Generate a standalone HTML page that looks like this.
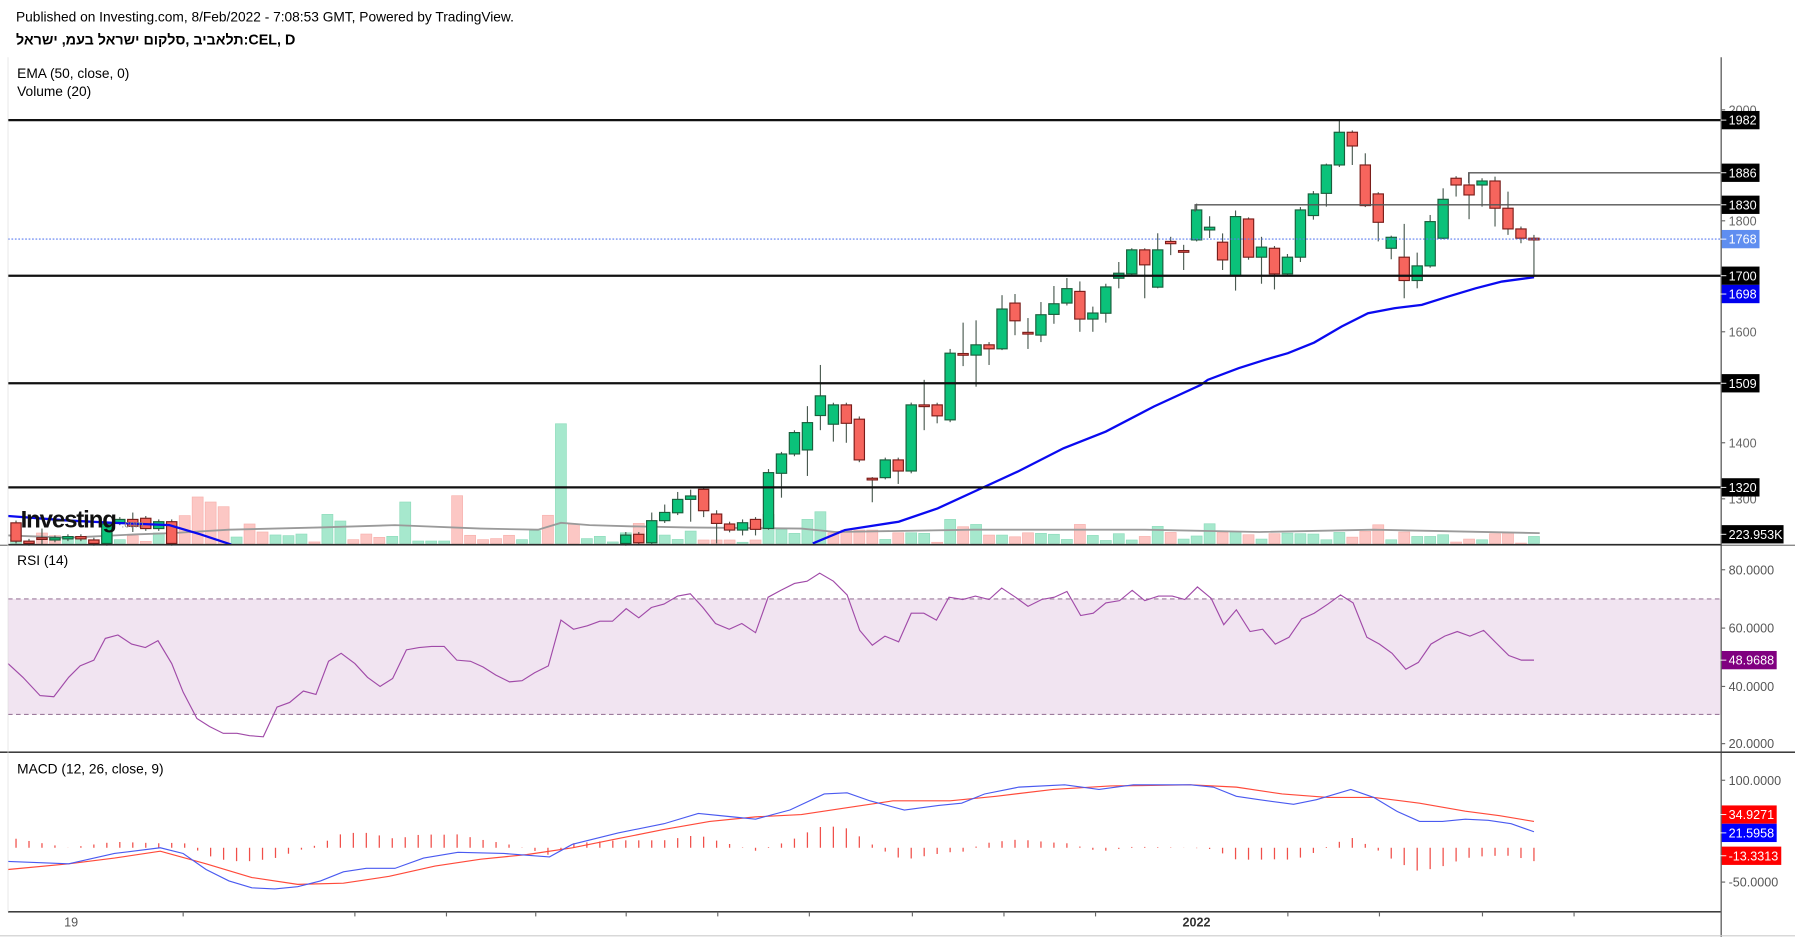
<!DOCTYPE html>
<html><head><meta charset="utf-8">
<style>
html,body{margin:0;padding:0;background:#fff;}
svg{display:block;}
text{font-family:"Liberation Sans","Noto Sans CJK SC",sans-serif;}
</style></head>
<body>
<svg id="c" xmlns="http://www.w3.org/2000/svg" width="1795" height="937" viewBox="0 0 1568 819" preserveAspectRatio="none">
<rect x="0" y="0" width="1568" height="819" fill="#fff"/>
<text x="14" y="19" font-size="12" fill="#000">Published on Investing.com, 8/Feb/2022 - 7:08:53 GMT, Powered by TradingView.</text>
<text x="14" y="39" font-size="12.5" font-weight="bold" fill="#000" direction="ltr">תלאביב ,סלקום ישראל בעמ, ישראל:CEL, D</text>
<text x="15" y="68" font-size="12" fill="#000">EMA (50, close, 0)</text>
<text x="15" y="84" font-size="12" fill="#000">Volume (20)</text>
<text x="15" y="494" font-size="12" fill="#000">RSI (14)</text>
<text x="15" y="676" font-size="12" fill="#000">MACD (12, 26, close, 9)</text>
<g id="g"></g>
</svg>
<script>
(function(){
var g=document.getElementById('g');var s='';
function X(i){return 14+i*11.333;}
s+='<rect x="7" y="523.5" width="1496" height="101" fill="#f1e4f1"/>';
s+='<line x1="7" y1="523.5" x2="1503" y2="523.5" stroke="#9c7a9c" stroke-dasharray="4,3"/>';
s+='<line x1="7" y1="624.5" x2="1503" y2="624.5" stroke="#9c7a9c" stroke-dasharray="4,3"/>';
var vt={0:['g',471.7],1:['r',472.9],2:['r',465.9],3:['r',468.2],4:['g',471.7],5:['g',469.4],6:['r',471.7],7:['g',465.9],8:['g',471.7],9:['r',468.2],10:['r',473.2],11:['g',465.9],12:['r',468],
13:['r',450.7],14:['r',434.4],15:['r',438.8],16:['r',442.9],17:['g',469.4],18:['r',458],19:['r',465],20:['g',467.6],21:['g',468.2],22:['g',466.8],23:['r',473.7],24:['g',449.6],25:['g',455.4],26:['r',471.7],27:['r',466.8],28:['r',469.7],29:['g',468.8],30:['g',438.8],31:['g',472.9],32:['g',472.9],33:['g',472.9],34:['r',433.3],35:['r',467.9],36:['r',471.7],37:['r',470.8],38:['r',467.9],39:['g',471.7],40:['g',463.8],41:['r',450.4],42:['g',370.4],43:['r',458],44:['g',470.8],45:['g',468.8],46:['g',473.7],
47:['g',465.7],48:['r',457.5],49:['g',465.7],50:['g',467.7],51:['g',471.5],52:['g',464.2],53:['r',472],54:['r',472],55:['r',472],56:['g',474],57:['r',472],58:['g',449.6],59:['g',462.7],60:['g',466.2],61:['g',454],62:['g',447.3],63:['r',465.7],64:['r',463.3],65:['r',463.3],66:['r',463.3],67:['g',471.5],68:['r',465.7],69:['g',465.7],70:['g',466.2],71:['r',474],72:['g',454],73:['r',460.4],74:['g',458.4],75:['r',467.7],76:['g',467.7],77:['r',469.2],78:['r',465.7],79:['g',466.2],80:['g',467],81:['g',471.5],82:['r',458.4],83:['g',468],
84:['g',472.4],85:['g',466.5],86:['g',472],87:['r',468.9],88:['g',460.1],89:['r',465.4],90:['g',471.2],91:['g',468.5],92:['g',457.8],93:['r',465.4],94:['g',464.5],95:['r',467.4],96:['g',471.2],97:['r',466.5],98:['g',466],99:['g',466.5],100:['g',466.8],101:['g',471.8],102:['g',465.4],103:['r',469.5],104:['r',464.5],105:['r',458.7],106:['g',471.8],107:['r',465],108:['g',468.9],109:['g',468.9],110:['g',467.4],111:['r',473.8],112:['r',471.2],113:['g',471.8],114:['r',466.5],115:['r',466],116:['r',474.7],117:['g',468.9]};
for(var i=0;i<=117;i++){var v=vt[i];if(!v)continue;var x=X(i)-4.8;
s+='<rect x="'+x+'" y="'+v[1]+'" width="9.6" height="'+(475-v[1])+'" fill="'+(v[0]=='g'?'#a6e8cd':'#fcc7c4')+'" stroke="'+(v[0]=='g'?'#8fdcbc':'#f7b1ad')+'" stroke-width="0.6"/>';}
s+='<polyline fill="none" stroke="#9a9a9a" stroke-width="1.6" points="7,468 60,470 120,467 150,466 200,463 280,461 345,459 420,462 470,463 490,457 515,459 550,460 600,461 700,462 730,465 850,463 1000,463 1100,465 1200,463 1345,466"/>';
var C=[[0,457,473],[1,473,475],[2,470,470.6,462,476],[3,472,470],[4,471,469],[5,469,471],[6,472,475],[7,475,458],[8,457,454],[9,454,460,448,465],[10,453,462],[11,462,456],[12,456,475],
[47,475,467.7,465,477],[48,467,474.4],[49,474.4,455.1,448],[50,455.1,447.9,441],[51,448.2,436.5,430],[52,436.5,433.5,428,456],[53,427.7,446.4,426,452],[54,449.3,457.5,446,475],[55,458,463.3],[56,463.3,456.9,454,468],[57,454,462.7,452,468],[58,461.9,413.1,410,463],[59,413.7,396.8,395,435],[60,396.8,378.1],[61,393.3,369.4,355,416],[62,363.2,346,319,376],[63,370.8,353.9,352,386],[64,353.9,370,352,387],[65,366.4,402,364,404],[66,418,419.5,417,439],[67,417.5,402,400,419],[68,402,411.7,400,423],[69,411.7,353.9],[70,353.9,354.8,332,376],[71,353.9,363.5,352,370],[72,367,308.7,305,369],[73,309,310.5,282,320],[74,310.4,301.4,280,338],[75,301.4,304.9,299,319],[76,304.9,270.1,258,306],[77,264.9,280.4,257,293],[78,290.5,292,278,305],[79,292.9,275.1,264,299],[80,274.8,265.5,250,283],[81,264.9,252.3,243,267],[82,254.7,278.9,246,290],[83,278.9,273.6,268,290],[84,273.8,250.8,248,282],[85,243.2,238.8,229,252],[86,239.4,218.4,217,241],[87,218.4,231.5,217,260.7],[88,251,218.4,203.9,252],[89,211,213,207,223],[90,219,220,214,236],[91,209.7,183.5,178,211],[92,201,198.6,189,208],[93,211.7,227.2,204,236],[94,241.2,189.3,184,254],[95,191.4,224.8,190,227],[96,224.8,216,207,248],[97,217,239.4,215,253],[98,239.4,224.8,222,241],[99,224.8,183.5,181,229],[100,188.4,169.5,167,192],[101,169,144.2,143,180.6],[102,144.2,115.6,104.9,146],[103,115.6,127.6,114,144.2],[104,144.2,179.7,134,181],[105,169.5,194.3,168,211],[106,217,207.4,206,226.6],[107,224.8,245.2,195.7,260.7],[108,245.2,232.4,220.8,252],[109,232.4,193.7,187.9,234],[110,208.2,174.2,164.6,209],[111,155.8,161.7,154,171.8],[112,161.7,170.4,150.9,191.6],[113,161.7,158.2,155.8,180.6],[114,158.2,182,154.4,198],[115,182,200.1,167.5,205.3],[116,200.1,208.2,198,212.6],[117,208.2,209,205.3,242.3]];
C.forEach(function(c){var x=X(c[0]),o=c[1],cl=c[2],t=Math.min(o,cl),b=Math.max(o,cl);var h=c[3]!==undefined?c[3]:t-2,l=c[4]!==undefined?c[4]:b+2;if(b-t<1.2){b=t+1.5;}
var up=cl<o;
s+='<line x1="'+x+'" y1="'+h+'" x2="'+x+'" y2="'+l+'" stroke="#4a5a50" stroke-width="1"/>';
s+='<rect x="'+(x-4.5)+'" y="'+t+'" width="9" height="'+(b-t)+'" fill="'+(up?'#0bc27a':'#f6655d')+'" stroke="'+(up?'#1a5e3c':'#7a1d1a')+'" stroke-width="1"/>';});
s+='<polyline fill="none" stroke="#0a0af0" stroke-width="2" points="7,451 60,455 100,457 148,459 175,467 202,476"/>';
s+='<polyline fill="none" stroke="#0a0af0" stroke-width="2" points="710,475 738,463.3 785,456 819,444.4 859,426 889,412.2 929,391.8 966,377.2 1008,355.3 1049,336.4 1055,332 1082,321.8 1105,314.5 1125,308.7 1148,299.4 1172,285.4 1195,273.8 1218,269.4 1242,266.5 1265,259.2 1289,252 1312,246.1 1340,242.3"/>';
s+='<line x1="7" y1="209" x2="1503" y2="209" stroke="#5b7cf0" stroke-width="1" stroke-dasharray="1.5,1.5"/>';
[105,241,335,426].forEach(function(y){s+='<line x1="7" y1="'+y+'" x2="1503" y2="'+y+'" stroke="#111" stroke-width="2"/>';});
s+='<polyline fill="none" stroke="#555" stroke-width="1.2" points="1283,160 1283,151 1503,151"/>';
s+='<polyline fill="none" stroke="#555" stroke-width="1.2" points="1044,185 1044,179 1503,179"/>';
s+='<text x="18" y="461" font-size="21" font-weight="bold" fill="#111" letter-spacing="-1">Investing</text><text x="106" y="461" font-size="9" fill="#888">.com</text>';
var rsi=[7,580,20,592,35,608,47,609,60,592,70,582,82,577,92,558,103,555,115,563,127,566,138,560,150,580,160,605,172,628,183,635,195,641,207,641,218,643,230,644,242,618,253,614,265,604,276,607,287,578,298,571,310,580,321,592,332,600,343,593,355,568,366,566,377,565,388,565,399,577,411,578,422,583,433,590,445,596,456,595,467,588,479,582,490,542,501,550,513,547,524,543,535,543,547,532,558,540,569,531,580,528,592,521,603,519,614,531,625,545,637,550,648,545,660,553,671,522,682,516,694,510,705,508,716,501,728,508,740,520,751,551,762,564,773,556,785,561,796,536,807,536,818,542,829,522,841,524,852,521,864,524,875,514,887,522,898,530,910,524,921,522,932,517,944,538,955,536,966,527,978,525,989,516,1000,525,1012,521,1024,521,1035,524,1046,513,1058,523,1069,546,1080,533,1092,552,1103,550,1114,563,1126,557,1137,541,1148,536,1160,528,1171,520,1182,527,1194,557,1205,563,1216,571,1228,585,1239,579,1250,563,1262,556,1273,552,1284,556,1296,551,1307,562,1318,573,1329,577,1340,577];
var p='';for(var k=0;k<rsi.length;k+=2)p+=rsi[k]+','+rsi[k+1]+' ';
s+='<polyline fill="none" stroke="#a04aa8" stroke-width="1" points="'+p+'"/>';
var mac=[[7,753],[60,755],[100,746],[140,741],[160,746],[180,760],[200,770],[220,776],[240,777],[260,775],[280,770],[300,762],[320,759],[345,759],[370,750],[400,745],[440,746],[480,749],[500,738],[540,728],[580,720],[610,711],[640,714],[660,716],[690,708],[720,694],[740,693],[760,700],[790,708],[820,704],[840,702],[860,694],[890,688],[930,686],[960,690],[990,686],[1040,686],[1060,688],[1080,696],[1100,699],[1130,703],[1150,699],[1180,690],[1200,697],[1220,709],[1240,718],[1260,718],[1280,716],[1300,717],[1320,720],[1340,727]];
var sig=[[7,760],[60,755],[100,750],[140,744],[180,755],[220,767],[260,773],[300,772],[340,766],[380,757],[420,751],[460,747],[500,741],[540,733],[580,725],[620,718],[660,714],[700,712],[740,706],[780,700],[830,700],[870,696],[920,690],[970,687],[1040,686],[1080,688],[1120,694],[1160,697],[1200,697],[1240,702],[1280,709],[1310,713],[1340,718]];
function interp(a,x){for(var k=0;k<a.length-1;k++){if(x>=a[k][0]&&x<=a[k+1][0]){var t=(x-a[k][0])/(a[k+1][0]-a[k][0]);return a[k][1]+t*(a[k+1][1]-a[k][1]);}}return a[a.length-1][1];}
for(var i=0;i<=117;i++){var x=X(i);var d=(interp(sig,x)-interp(mac,x))*1.3;if(d>24)d=24;if(d<-24)d=-24;var y2=741-d;
s+='<line x1="'+x+'" y1="741" x2="'+x+'" y2="'+y2+'" stroke="#f0504a" stroke-width="1.1"/>';}
function pl(a){return a.map(function(q){return q[0]+','+q[1];}).join(' ');}
s+='<polyline fill="none" stroke="#ff4a3a" stroke-width="1" points="'+pl(sig)+'"/>';
s+='<polyline fill="none" stroke="#4a5af0" stroke-width="1" points="'+pl(mac)+'"/>';
s+='<line x1="7" y1="476" x2="1503" y2="476" stroke="#222" stroke-width="1.2"/>';
s+='<line x1="0" y1="657.5" x2="1568" y2="657.5" stroke="#222" stroke-width="1.2"/>';
s+='<line x1="0" y1="476.5" x2="1568" y2="476.5" stroke="#444" stroke-width="0.8"/>';
s+='<line x1="7" y1="797" x2="1503" y2="797" stroke="#222" stroke-width="1.2"/>';
s+='<line x1="1503.5" y1="50" x2="1503.5" y2="819" stroke="#444" stroke-width="1"/>';
s+='<line x1="7" y1="50" x2="7" y2="797" stroke="#ddd" stroke-width="0.6"/>';
[[2000,96],[1800,193],[1600,290],[1400,387],[1300,436]].forEach(function(t){s+='<line x1="1503" y1="'+t[1]+'" x2="1507" y2="'+t[1]+'" stroke="#666"/><text x="1510" y="'+(t[1]+4)+'" font-size="11" fill="#666">'+t[0]+'</text>';});
[['80.0000',498],['60.0000',549],['40.0000',600],['20.0000',650]].forEach(function(t){s+='<line x1="1503" y1="'+t[1]+'" x2="1507" y2="'+t[1]+'" stroke="#666"/><text x="1510" y="'+(t[1]+4)+'" font-size="11" fill="#555">'+t[0]+'</text>';});
[['100.0000',682],['-50.0000',771]].forEach(function(t){s+='<line x1="1503" y1="'+t[1]+'" x2="1507" y2="'+t[1]+'" stroke="#666"/><text x="1510" y="'+(t[1]+4)+'" font-size="11" fill="#555">'+t[0]+'</text>';});
function badge(txt,y,bg,w){w=w||33;s+='<rect x="1504" y="'+(y-8)+'" width="'+w+'" height="16" fill="'+bg+'"/><line x1="1503" y1="'+y+'" x2="1508" y2="'+y+'" stroke="#fff" stroke-width="0.8"/><text x="1510" y="'+(y+4)+'" font-size="11" fill="#fff">'+txt+'</text>';}
badge('1982',105,'#000');badge('1886',151,'#000');badge('1830',179,'#000');badge('1768',209,'#5f8ef0');badge('1700',241,'#000');badge('1698',257,'#0000ee');badge('1509',335,'#000');badge('1320',426,'#000');badge('223.953K',467,'#000',54);
badge('48.9688',577,'#800080',48);badge('34.9271',712,'#ff0000',48);badge('21.5958',728,'#0000ff',48);badge('-13.3313',748,'#ff0000',52);
[160,310,390,468,547,627,707,797,877,957,1125,1205,1295,1375].forEach(function(x){s+='<line x1="'+x+'" y1="797" x2="'+x+'" y2="801" stroke="#666"/>';});
s+='<text x="56" y="810" font-size="11" fill="#555">19</text>';
s+='<text x="1033" y="810" font-size="11" font-weight="bold" fill="#333">2022</text>';
s+='<line x1="0" y1="818" x2="1568" y2="818" stroke="#ccc"/>';
g.innerHTML=s;
})();
</script>
</body></html>
